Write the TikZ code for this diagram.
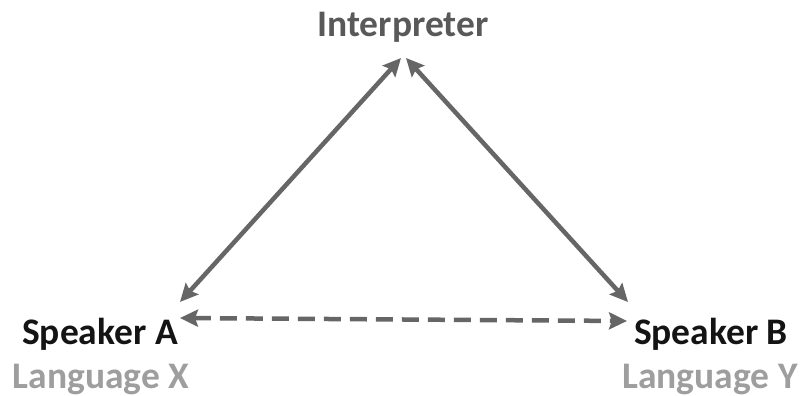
\documentclass[tikz,border=0pt]{standalone}
\usepackage{fontspec}
\setmainfont{Carlito}
\usetikzlibrary{arrows.meta}
\definecolor{interp}{HTML}{595959}
\definecolor{spk}{HTML}{141414}
\definecolor{lang}{HTML}{9E9E9E}
\definecolor{arr}{HTML}{666666}
\begin{document}
\begin{tikzpicture}[x=1pt,y=-1pt,
  lbl/.style={anchor=base,inner sep=0pt,font=\fontsize{37.5}{40}\selectfont\bfseries},
  link/.style={draw=arr,line width=4.5pt,{Stealth[length=18pt,width=17pt,inset=3pt]}-{Stealth[length=18pt,width=17pt,inset=3pt]}},
  dlink/.style={link,dash pattern=on 17pt off 9pt}]
\useasboundingbox (0,0) rectangle (801,396);
\node[lbl,text=interp] (int) at (403,37) {Interpreter};
\node[lbl,text=spk] (sa) at (100,344) {Speaker A};
\node[lbl,text=lang] (lx) at (101,388) {Language X};
\node[lbl,text=spk] (sb) at (711,344) {Speaker B};
\node[lbl,text=lang] (ly) at (710,388) {Language Y};
\coordinate (it1) at (401,58);
\coordinate (it2) at (406,58);
\coordinate (sat) at (180,302);
\coordinate (sbt) at (628,302);
\coordinate (sad) at (180,318);
\coordinate (sbd) at (627,321);
\draw[link] (sat) -- (it1);
\draw[link] (it2) -- (sbt);
\draw[dlink] (sad) -- (sbd);
\end{tikzpicture}
\end{document}
